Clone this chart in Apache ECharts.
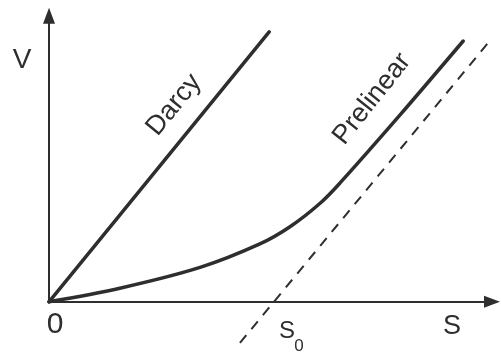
<!DOCTYPE html>
<html>
<head>
<meta charset="utf-8">
<script src="https://cdn.jsdelivr.net/npm/echarts@6/dist/echarts.min.js"></script>
<style>
html,body{margin:0;padding:0;background:#fff;}
#c{width:501px;height:352px;}
</style>
</head>
<body>
<div id="c"></div>
<script>
// Data (axis units, origin at O)
const darcy = [[0, 0], [4.97, 5.97]];
const prelinear = [[0, 0], [1.60, 0.30], [3.41, 0.76], [4.76, 1.28], [5.44, 1.66], [6.12, 2.18], [6.57, 2.63], [7.92, 4.13], [9.35, 5.77]];
const asymptote = [[4.31, -0.91], [9.93, 5.75]];
const yAxisTop = 6.33;
const labelV = 'V', labelO = '0', labelS = 'S', labelS0 = 'S', labelS0sub = '0';
const labelDarcy = 'Darcy', labelPre = 'Prelinear';

const ink = '#2e2e2e';
const font = '"Liberation Sans", Arial, sans-serif';
const chart = echarts.init(document.getElementById('c'), null, {renderer: 'canvas'});
function txt(t, x, y, size, rot) {
  return {type: 'text', x: x, y: y, rotation: rot || 0,
    style: {text: t, fill: ink, font: size + 'px ' + font,
      align: 'center', verticalAlign: 'middle', textAlign: 'center', textVerticalAlign: 'middle'}};
}
chart.setOption({
  animation: false,
  backgroundColor: '#ffffff',
  grid: {left: 49, right: 9, top: 8, bottom: 5},
  xAxis: {type: 'value', min: 0, max: 10,
    axisLine: {show: true, onZero: true, symbol: ['none', 'triangle'], symbolSize: [12, 16],
      lineStyle: {color: ink, width: 2}},
    axisTick: {show: false}, axisLabel: {show: false}, splitLine: {show: false}},
  yAxis: {type: 'value', min: -1, max: 6.5,
    axisLine: {show: false}, axisTick: {show: false}, axisLabel: {show: false}, splitLine: {show: false}},
  series: [
    {type: 'line', data: darcy, showSymbol: false, symbol: 'none',
      lineStyle: {color: ink, width: 3.5, cap: 'round'},
      markLine: {silent: true, symbol: ['none', 'triangle'], symbolSize: [12, 16],
        label: {show: false}, lineStyle: {color: ink, width: 2, type: 'solid'},
        data: [[{coord: [0, 0]}, {coord: [0, yAxisTop]}]]}},
    {type: 'line', data: prelinear, smooth: 0.35, showSymbol: false, symbol: 'none',
      lineStyle: {color: ink, width: 3.5, cap: 'round'}},
    {type: 'line', data: asymptote, showSymbol: false, symbol: 'none',
      lineStyle: {color: ink, width: 2, type: [10, 8]}}
  ],
  graphic: [
    txt(labelV, 22, 60, 28),
    txt(labelO, 55, 325, 30),
    txt(labelS, 452, 327, 27),
    txt(labelS0, 287, 331, 24),
    txt(labelS0sub, 299, 346, 17),
    txt(labelDarcy, 174, 105, 27, 0.887),
    txt(labelPre, 372, 99, 27, 0.90)
  ]
});
</script>
</body>
</html>
